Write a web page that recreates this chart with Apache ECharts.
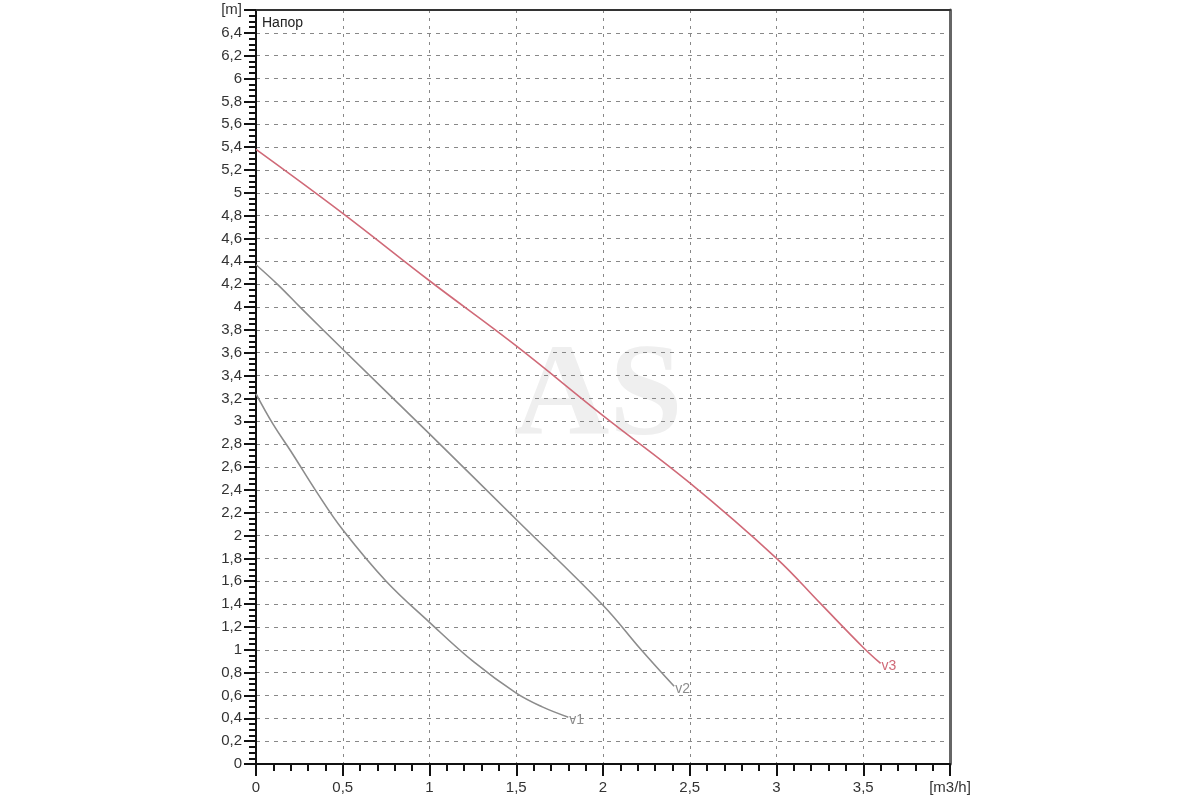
<!DOCTYPE html>
<html>
<head>
<meta charset="utf-8">
<script src="https://cdn.jsdelivr.net/npm/echarts@6/dist/echarts.min.js"></script>
<style>html,body{margin:0;padding:0;background:#fff}#c{width:1200px;height:800px}</style>
</head>
<body>
<div id="c"></div>
<script>
// Data
const seriesNames = ['v1', 'v2', 'v3'];
const v1Points = [[0,3.24],[0.1,2.97],[0.2,2.74],[0.35,2.38],[0.5,2.05],[0.75,1.6],[1,1.24],[1.25,0.9],[1.5,0.62],[1.65,0.5],[1.8,0.41]];
const v2Points = [[0,4.37],[0.13,4.19],[0.26,3.99],[0.5,3.63],[1,2.89],[1.5,2.14],[2,1.39],[2.22,1.0],[2.41,0.68]];
const v3Points = [[0,5.38],[0.5,4.82],[1,4.23],[1.5,3.66],[2,3.05],[2.5,2.46],[3,1.8],[3.25,1.41],[3.5,1.02],[3.6,0.88]];
const xUnitLabel = '[m3/h]';
const yUnitLabel = '[m]';
const yTitle = 'Напор';
const watermark = 'AS';

const colors = ['#8c8c8c', '#8c8c8c', '#d06a78'];
const allPoints = [v1Points, v2Points, v3Points];
const fmt = v => String(Math.round(v * 10) / 10).replace('.', ',');

const chart = echarts.init(document.getElementById('c'));
chart.setOption({
  animation: false,
  backgroundColor: '#fff',
  grid: { left: 256, right: 250, top: 10, bottom: 36, containLabel: false },
  textStyle: { fontFamily: 'Liberation Sans, Arial, sans-serif' },
  graphic: [
    { type: 'text', left: 514, top: 334, z: -1, silent: true,
      style: { text: watermark, font: 'bold 132px "Liberation Serif", serif', fill: '#efefef' } },
    { type: 'text', left: 262, top: 16, z: 10,
      style: { text: yTitle, font: '14px "Liberation Sans", Arial, sans-serif', fill: '#222' } }
  ],
  xAxis: [{
    type: 'value', min: 0, max: 4, interval: 0.5,
    axisLine: { lineStyle: { color: '#111', width: 2 } },
    axisTick: { show: true, length: 12, lineStyle: { color: '#111', width: 2 } },
    minorTick: { show: true, splitNumber: 5, length: 7, lineStyle: { color: '#111', width: 2 } },
    axisLabel: { margin: 16, fontSize: 15, color: '#333',
      formatter: v => (Math.abs(v - 4) < 1e-6 ? xUnitLabel : fmt(v)) },
    splitLine: { show: true, lineStyle: { color: '#888', type: [3, 5], width: 1 } }
  }, {
    type: 'value', position: 'top', min: 0, max: 4,
    axisLine: { show: true, onZero: false, lineStyle: { color: '#333', width: 2 } },
    axisTick: { show: false }, axisLabel: { show: false }, splitLine: { show: false }
  }],
  yAxis: [{
    type: 'value', min: 0, max: 6.6, interval: 0.2,
    axisLine: { show: true, lineStyle: { color: '#111', width: 2 } },
    axisTick: { show: true, length: 12, lineStyle: { color: '#111', width: 2 } },
    minorTick: { show: true, splitNumber: 4, length: 7, lineStyle: { color: '#111', width: 2 } },
    axisLabel: { margin: 14, fontSize: 15, color: '#333',
      formatter: v => (Math.abs(v - 6.6) < 1e-6 ? yUnitLabel : fmt(v)) },
    splitLine: { show: true, lineStyle: { color: '#888', type: [4, 5], width: 1 } }
  }, {
    type: 'value', position: 'right', min: 0, max: 6.6,
    axisLine: { show: true, onZero: false, lineStyle: { color: '#666', width: 3 } },
    axisTick: { show: false }, axisLabel: { show: false }, splitLine: { show: false }
  }],
  series: seriesNames.map((name, i) => ({
    name, type: 'line', data: allPoints[i], smooth: 0.4, symbol: 'none',
    lineStyle: { color: colors[i], width: 1.6 },
    endLabel: { show: true, formatter: name, color: colors[i], fontSize: 14, distance: 1, offset: [0, 3] },
    z: i === 2 ? 4 : 3
  }))
});
</script>
</body>
</html>
